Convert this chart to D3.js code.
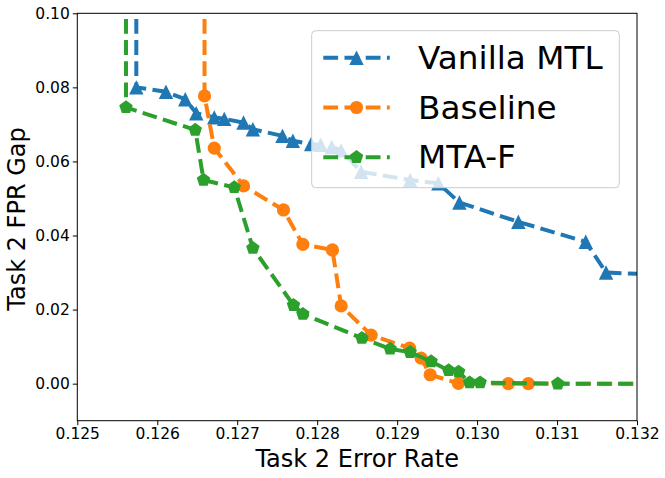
<!DOCTYPE html>
<html>
<head>
<meta charset="utf-8">
<script src="https://cdn.jsdelivr.net/npm/d3@7"></script>
<style>
  body { margin: 0; background: #fff; }
  text { font-family: "DejaVu Sans", sans-serif; fill: #000; }
</style>
</head>
<body>
<div id="chart"></div>
<script>
// values (error rate, FPR gap); first point is the clipped vertical leg
const vanillaX = [0.125738, 0.125738, 0.126109, 0.126350, 0.126488, 0.126713, 0.126838, 0.127079,
	0.127196, 0.127566, 0.127696, 0.127925, 0.128044, 0.128181, 0.128300, 0.128550, 0.129163,
	0.129516, 0.129779, 0.130516, 0.131359, 0.131613, 0.133000];
const vanillaY = [0.150, 0.0800, 0.0788, 0.0768, 0.0730, 0.0719, 0.0715, 0.0705,
	0.0687, 0.0669, 0.0656, 0.0647, 0.0645, 0.0639, 0.0630, 0.0572, 0.0550,
	0.0541, 0.0489, 0.0437, 0.0383, 0.0300, 0.0288];

const baselineX = [0.126591, 0.126591, 0.126713, 0.127079, 0.127579, 0.127821, 0.128191, 0.128300,
	0.128675, 0.129156, 0.129300, 0.129413, 0.129766, 0.130391, 0.130641, 0.133000];
const baselineY = [0.150, 0.0777, 0.0636, 0.0534, 0.0469, 0.0376, 0.0361, 0.0210,
	0.0131, 0.0096, 0.0069, 0.0024, 0.0001, 0.0000, 0.0000, 0.0000];

const mtafX = [0.125609, 0.125609, 0.126475, 0.126579, 0.126963, 0.127196, 0.127704, 0.127821,
	0.128559, 0.128913, 0.129163, 0.129425, 0.129644, 0.129769, 0.129906, 0.130038, 0.131009, 0.133000];
const mtafY = [0.150, 0.0746, 0.0685, 0.0550, 0.0530, 0.0366, 0.0212, 0.0188,
	0.0123, 0.0094, 0.0085, 0.0060, 0.0036, 0.0032, 0.0003, 0.0003, 0.0000, 0.0000];

const seriesNames = ["Vanilla MTL", "Baseline", "MTA-F"];
const seriesColors = ["#1f77b4", "#ff7f0e", "#2ca02c"];
const xTicks = [0.125, 0.126, 0.127, 0.128, 0.129, 0.130, 0.131, 0.132];
const yTicks = [0.00, 0.02, 0.04, 0.06, 0.08, 0.10];

// marker shapes like matplotlib ^, o, p
const triangle = { draw(ctx, s) { const r = s; ctx.moveTo(0, -r); ctx.lineTo(r, r); ctx.lineTo(-r, r); ctx.closePath(); } };
const circle = { draw(ctx, s) { ctx.moveTo(s, 0); ctx.arc(0, 0, s, 0, 2 * Math.PI); } };
const pentagon = { draw(ctx, s) {
	for (let i = 0; i < 5; i++) {
		const a = -Math.PI / 2 + i * 2 * Math.PI / 5;
		if (i == 0) ctx.moveTo(s * Math.cos(a), s * Math.sin(a));
		else ctx.lineTo(s * Math.cos(a), s * Math.sin(a));
	}
	ctx.closePath();
} };
const shapes = [[triangle, 7.2], [circle, 6.6], [pentagon, 7.1]];

const series = [
	vanillaX.map((x, i) => ({x: x, y: vanillaY[i]})),
	baselineX.map((x, i) => ({x: x, y: baselineY[i]})),
	mtafX.map((x, i) => ({x: x, y: mtafY[i]}))
];

const W = 665, H = 478;
const margin = {top: 13.3, right: 28, bottom: 57.3, left: 77.3};
const width = W - margin.left - margin.right,
	height = H - margin.top - margin.bottom;

const svg = d3.select("#chart").append("svg")
	.attr("width", W).attr("height", H);

const g = svg.append("g")
	.attr("transform", `translate(${margin.left},${margin.top})`);

const x = d3.scaleLinear().domain([0.125, 0.132]).range([0, width]);
const y = d3.scaleLinear().domain([-0.01, 0.10]).range([height, 0]);

g.append("clipPath").attr("id", "clip")
	.append("rect").attr("width", width).attr("height", height);

const plot = g.append("g").attr("clip-path", "url(#clip)");

const line = d3.line().x(d => x(d.x)).y(d => y(d.y));

series.forEach((data, k) => {
	plot.append("path")
		.datum(data)
		.attr("d", line)
		.attr("fill", "none")
		.attr("stroke", seriesColors[k])
		.attr("stroke-width", 4)
		.attr("stroke-dasharray", "14.8,6.4");
	plot.selectAll(".m" + k)
		.data(data)
		.enter().append("path")
		.attr("class", "m" + k)
		.attr("transform", d => `translate(${x(d.x)},${y(d.y)})`)
		.attr("d", d3.symbol().type(shapes[k][0]).size(shapes[k][1]))
		.attr("fill", seriesColors[k]);
});

// axes
const xAxis = g.append("g")
	.attr("transform", `translate(0,${height})`)
	.call(d3.axisBottom(x).tickValues(xTicks).tickFormat(d3.format(".3f")).tickSizeOuter(0).tickSize(4.5).tickPadding(3));
const yAxis = g.append("g")
	.call(d3.axisLeft(y).tickValues(yTicks).tickFormat(d3.format(".2f")).tickSizeOuter(0).tickSize(4.5).tickPadding(3));
[xAxis, yAxis].forEach(a => {
	a.selectAll("text").attr("font-size", 15.5).attr("font-family", "DejaVu Sans");
	a.select(".domain").remove();
	a.selectAll("line").attr("stroke", "#000").attr("stroke-width", 1);
});

g.append("rect")
	.attr("width", width).attr("height", height)
	.attr("fill", "none").attr("stroke", "#000").attr("stroke-width", 1);

svg.append("text")
	.attr("x", margin.left + width / 2).attr("y", 466.5)
	.attr("text-anchor", "middle").attr("font-size", 24)
	.text("Task 2 Error Rate");
svg.append("text")
	.attr("transform", `translate(25,219) rotate(-90)`)
	.attr("text-anchor", "middle").attr("font-size", 24)
	.text("Task 2 FPR Gap");

// legend
const legend = svg.append("g");
legend.append("rect")
	.attr("x", 311.7).attr("y", 30.7).attr("width", 307.6).attr("height", 157)
	.attr("rx", 4).attr("fill", "#fff").attr("fill-opacity", 0.8)
	.attr("stroke", "#cccccc").attr("stroke-width", 1);

seriesNames.forEach((name, k) => {
	const cy = 57.8 + k * 49.7;
	legend.append("line")
		.attr("x1", 323.3).attr("x2", 389.8).attr("y1", cy).attr("y2", cy)
		.attr("stroke", seriesColors[k]).attr("stroke-width", 4)
		.attr("stroke-dasharray", "14.8,6.4");
	legend.append("path")
		.attr("transform", `translate(356.5,${cy})`)
		.attr("d", d3.symbol().type(shapes[k][0]).size(shapes[k][1]))
		.attr("fill", seriesColors[k]);
	legend.append("text")
		.attr("x", 418).attr("y", cy + 11.2)
		.attr("font-size", 32.7)
		.text(name);
});
</script>
</body>
</html>
